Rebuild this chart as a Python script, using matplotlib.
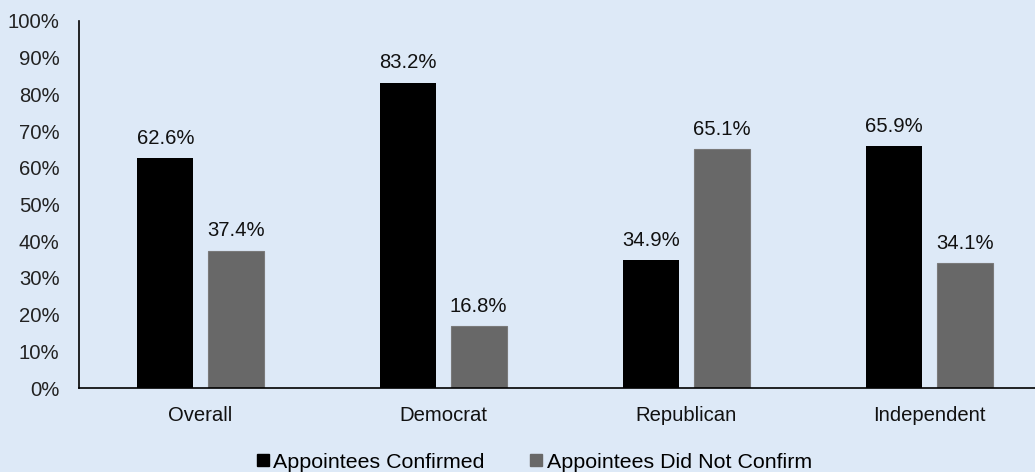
import matplotlib.pyplot as plt
import numpy as np

plt.rcParams['font.family'] = ['Liberation Sans', 'DejaVu Sans']

categories = ['Overall', 'Democrat', 'Republican', 'Independent']
confirmed = [62.6, 83.2, 34.9, 65.9]
not_confirm = [37.4, 16.8, 65.1, 34.1]
y_ticks = [0, 10, 20, 30, 40, 50, 60, 70, 80, 90, 100]

bg = '#dde9f7'
fs = 14.6

fig = plt.figure(figsize=(10.35, 4.72), dpi=100, facecolor=bg)
ax = fig.add_axes([79 / 1035, 84 / 472, 956 / 1035, 367 / 472])
ax.set_facecolor(bg)

x = np.arange(len(categories))
w = 0.23
off = 0.145
b1 = ax.bar(x - off, confirmed, w, color='black', label='Appointees Confirmed')
b2 = ax.bar(x + off, not_confirm, w, color='#686868', edgecolor='#7a7a7a',
            linewidth=0.8, label='Appointees Did Not Confirm')

for bars, vals in ((b1, confirmed), (b2, not_confirm)):
    for r, v in zip(bars, vals):
        ax.text(r.get_x() + r.get_width() / 2, v + 2.8, f'{v:.1f}%',
                ha='center', va='bottom', fontsize=fs, color='#111111')

ax.set_xlim(-0.5, -0.5 + 956 / 243)
ax.set_ylim(0, 100)
ax.set_yticks(y_ticks)
ax.set_yticklabels([f'{t}%' for t in y_ticks], fontsize=fs, color='#222222')
ax.set_xticks(x)
ax.set_xticklabels(categories, fontsize=fs, color='#111111')
ax.tick_params(axis='y', length=0, pad=14)
ax.tick_params(axis='x', length=0, pad=13)

ax.spines['right'].set_color('none')
ax.spines['top'].set_color('none')
ax.spines['left'].set_linewidth(1.2)
ax.spines['bottom'].set_linewidth(1.2)

handles = [plt.Line2D([], [], marker='s', linestyle='none', color='black', markersize=9.2),
           plt.Line2D([], [], marker='s', linestyle='none', color='#686868', markersize=9.2)]
fig.legend(handles, ['Appointees Confirmed', 'Appointees Did Not Confirm'],
           loc='center', bbox_to_anchor=(534 / 1035, 1 - 462 / 472), ncol=2,
           frameon=False, fontsize=15.4, handlelength=0.6, handletextpad=0.2,
           columnspacing=2.1, borderaxespad=0)

fig.savefig('out.png', dpi=100, facecolor=bg)
